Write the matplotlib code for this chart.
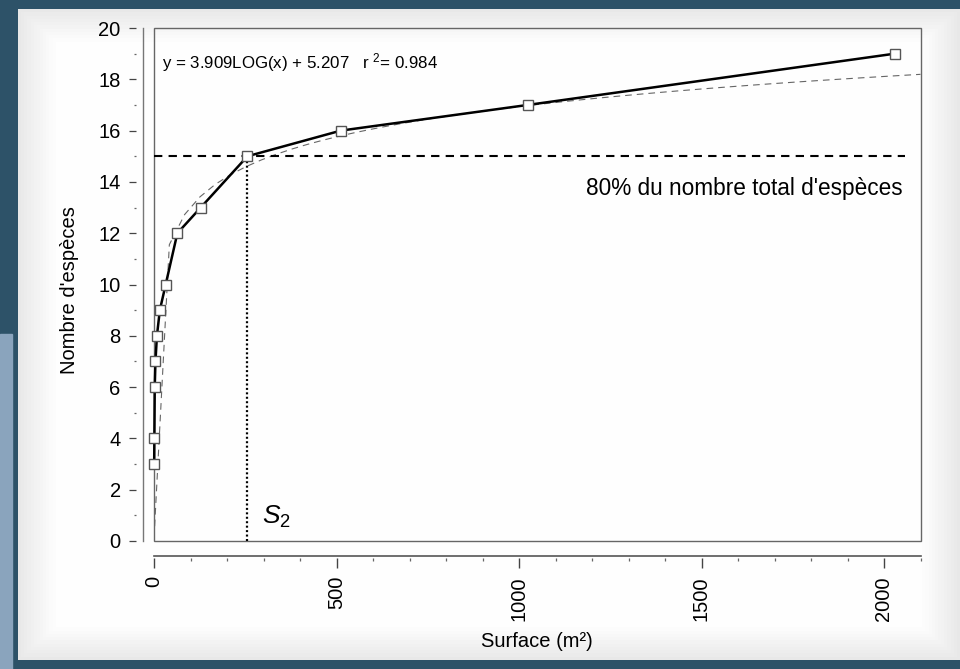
import numpy as np
import matplotlib
matplotlib.use("Agg")
import matplotlib.pyplot as plt
from matplotlib import font_manager
from matplotlib.patches import Rectangle
from matplotlib.lines import Line2D

# -----------------------------
# 1. Data
# -----------------------------

SURFACE = [0.5, 1, 2, 4, 8, 16, 32, 64, 128, 256, 512, 1024, 2030]
SPECIES = [3, 4, 6, 7, 8, 9, 10, 12, 13, 15, 16, 17, 19]

FIT_SLOPE = 3.909
FIT_INTERCEPT = 5.207
FIT_R2 = 0.984

THRESHOLD = 15      # 80% du nombre total d'especes
S2_SURFACE = 256

X_TICKS = [0, 500, 1000, 1500, 2000]
Y_TICKS = list(range(0, 21, 2))

# -----------------------------
# 2. Fonts / figure
# -----------------------------

plt.rcParams["font.family"] = ["Liberation Sans", "DejaVu Sans"]
plt.rcParams["mathtext.fontset"] = "custom"
plt.rcParams["mathtext.rm"] = "Liberation Sans"
plt.rcParams["mathtext.it"] = "Liberation Sans:italic"
plt.rcParams["mathtext.default"] = "regular"

# equation is set in a narrow face when one is available
try:
    font_manager.findfont("Liberation Sans Narrow", fallback_to_default=False)
    EQ_FONT, EQ_SIZE = "Liberation Sans Narrow", 14.5
except Exception:
    EQ_FONT, EQ_SIZE = "Liberation Sans", 12.2

W, H = 960, 669
fig = plt.figure(figsize=(W / 100, H / 100), dpi=100)
fig.patch.set_facecolor("#2d5268")

# light strip at lower left of the screenshot
fig.patches.append(Rectangle((0, 0), 12 / W, 335 / H, transform=fig.transFigure,
                             color="#8aa4bd", zorder=0))

# white panel with soft grey edges
bg = fig.add_axes([18 / W, 9 / H, 942 / W, 651 / H])
yy, xx = np.mgrid[0:1:200j, 0:1:300j]
edge = np.minimum.reduce([xx / 0.04, (1 - xx) / 0.04, yy / 0.05, (1 - yy) / 0.05])
shade = 0.91 + 0.085 * np.clip(edge, 0, 1)
bg.imshow(shade, cmap="gray", vmin=0, vmax=1, aspect="auto", extent=[0, 1, 0, 1])
bg.axis("off")

# -----------------------------
# 3. Main plot
# -----------------------------

ax = fig.add_axes([154 / W, 1 - 541 / H, (920.5 - 154) / W, (541 - 28) / H])
ax.set_facecolor("none")
ax.set_xlim(0, 2100)
ax.set_ylim(0, 20)

# log fit (dashed grey), evaluated from the shown equation
fit_x = np.linspace(0.05, 2100, 51)
fit_y = FIT_SLOPE * np.log10(fit_x) + FIT_INTERCEPT
ax.plot(fit_x, fit_y, color="#666666", lw=0.8, dashes=(6, 4.5), zorder=2)

# 80% line and S2 marker line
ax.plot([0, 2058], [THRESHOLD, THRESHOLD], color="black", lw=1.5, dashes=(4, 3), zorder=3)
ax.plot([S2_SURFACE, S2_SURFACE], [0, THRESHOLD], color="black", lw=1.6,
        ls=(0, (0.9, 1.1)), zorder=3)

# species-area curve
ax.plot(SURFACE, SPECIES, color="black", lw=1.8, marker="s", ms=7,
        mfc="white", mec="#555555", mew=1, zorder=4, clip_on=False)

# box frame
for s in ax.spines.values():
    s.set_visible(False)
ax.add_patch(Rectangle((0, 0), 1, 1, transform=ax.transAxes, fill=False,
                       ec="#666666", lw=1, clip_on=False, zorder=1))

# offset axis lines (drawn apart from the ticks)
ax.add_line(Line2D([-11 / 766.5, -11 / 766.5], [0, 1], transform=ax.transAxes,
                   color="#777777", lw=1, clip_on=False))
ax.add_line(Line2D([0, 1], [-15 / 513, -15 / 513], transform=ax.transAxes,
                   color="#555555", lw=1.2, clip_on=False))

ax.spines["left"].set_position(("outward", 18 * 0.72))
ax.spines["bottom"].set_position(("outward", 17 * 0.72))

ax.set_yticks(Y_TICKS)
ax.set_yticks(range(1, 20, 2), minor=True)
ax.set_xticks(X_TICKS)
ax.set_xticks(range(100, 2101, 100), minor=True)
ax.tick_params(axis="y", which="major", direction="out", length=5, width=0.9,
               color="#444444", labelsize=14.5, pad=6)
ax.tick_params(axis="y", which="minor", direction="out", length=1.2, width=0.9, color="#666666")
ax.tick_params(axis="x", which="major", direction="out", length=7, width=1,
               color="#444444", labelsize=14.5, pad=6, labelrotation=90)
ax.tick_params(axis="x", which="minor", direction="out", length=2, width=0.9, color="#666666")
ax.tick_params(top=False, right=False)

ax.set_xlabel("Surface (m²)", fontsize=14.5)
ax.set_ylabel("Nombre d'espèces", fontsize=14.5)
ax.xaxis.set_label_coords(0.5, -0.178)
ax.yaxis.set_label_coords(-0.11, 0.49)
ax.yaxis.label.set_va("center")
ax.xaxis.label.set_va("top")

# annotations
ax.text(22, 18.65, "y = 3.909LOG(x) + 5.207   r $^{2}$= %.3f" % FIT_R2,
        fontsize=EQ_SIZE, family=EQ_FONT, va="center", ha="left")
ax.text(2052, 13.76, "80% du nombre total d'espèces", fontsize=16.3, va="center", ha="right")
ax.text(296, 0.95, r"$\mathit{S}_{\mathit{2}}$", fontsize=19, va="center", ha="left")

fig.savefig("out.png", dpi=100, facecolor=fig.get_facecolor())
